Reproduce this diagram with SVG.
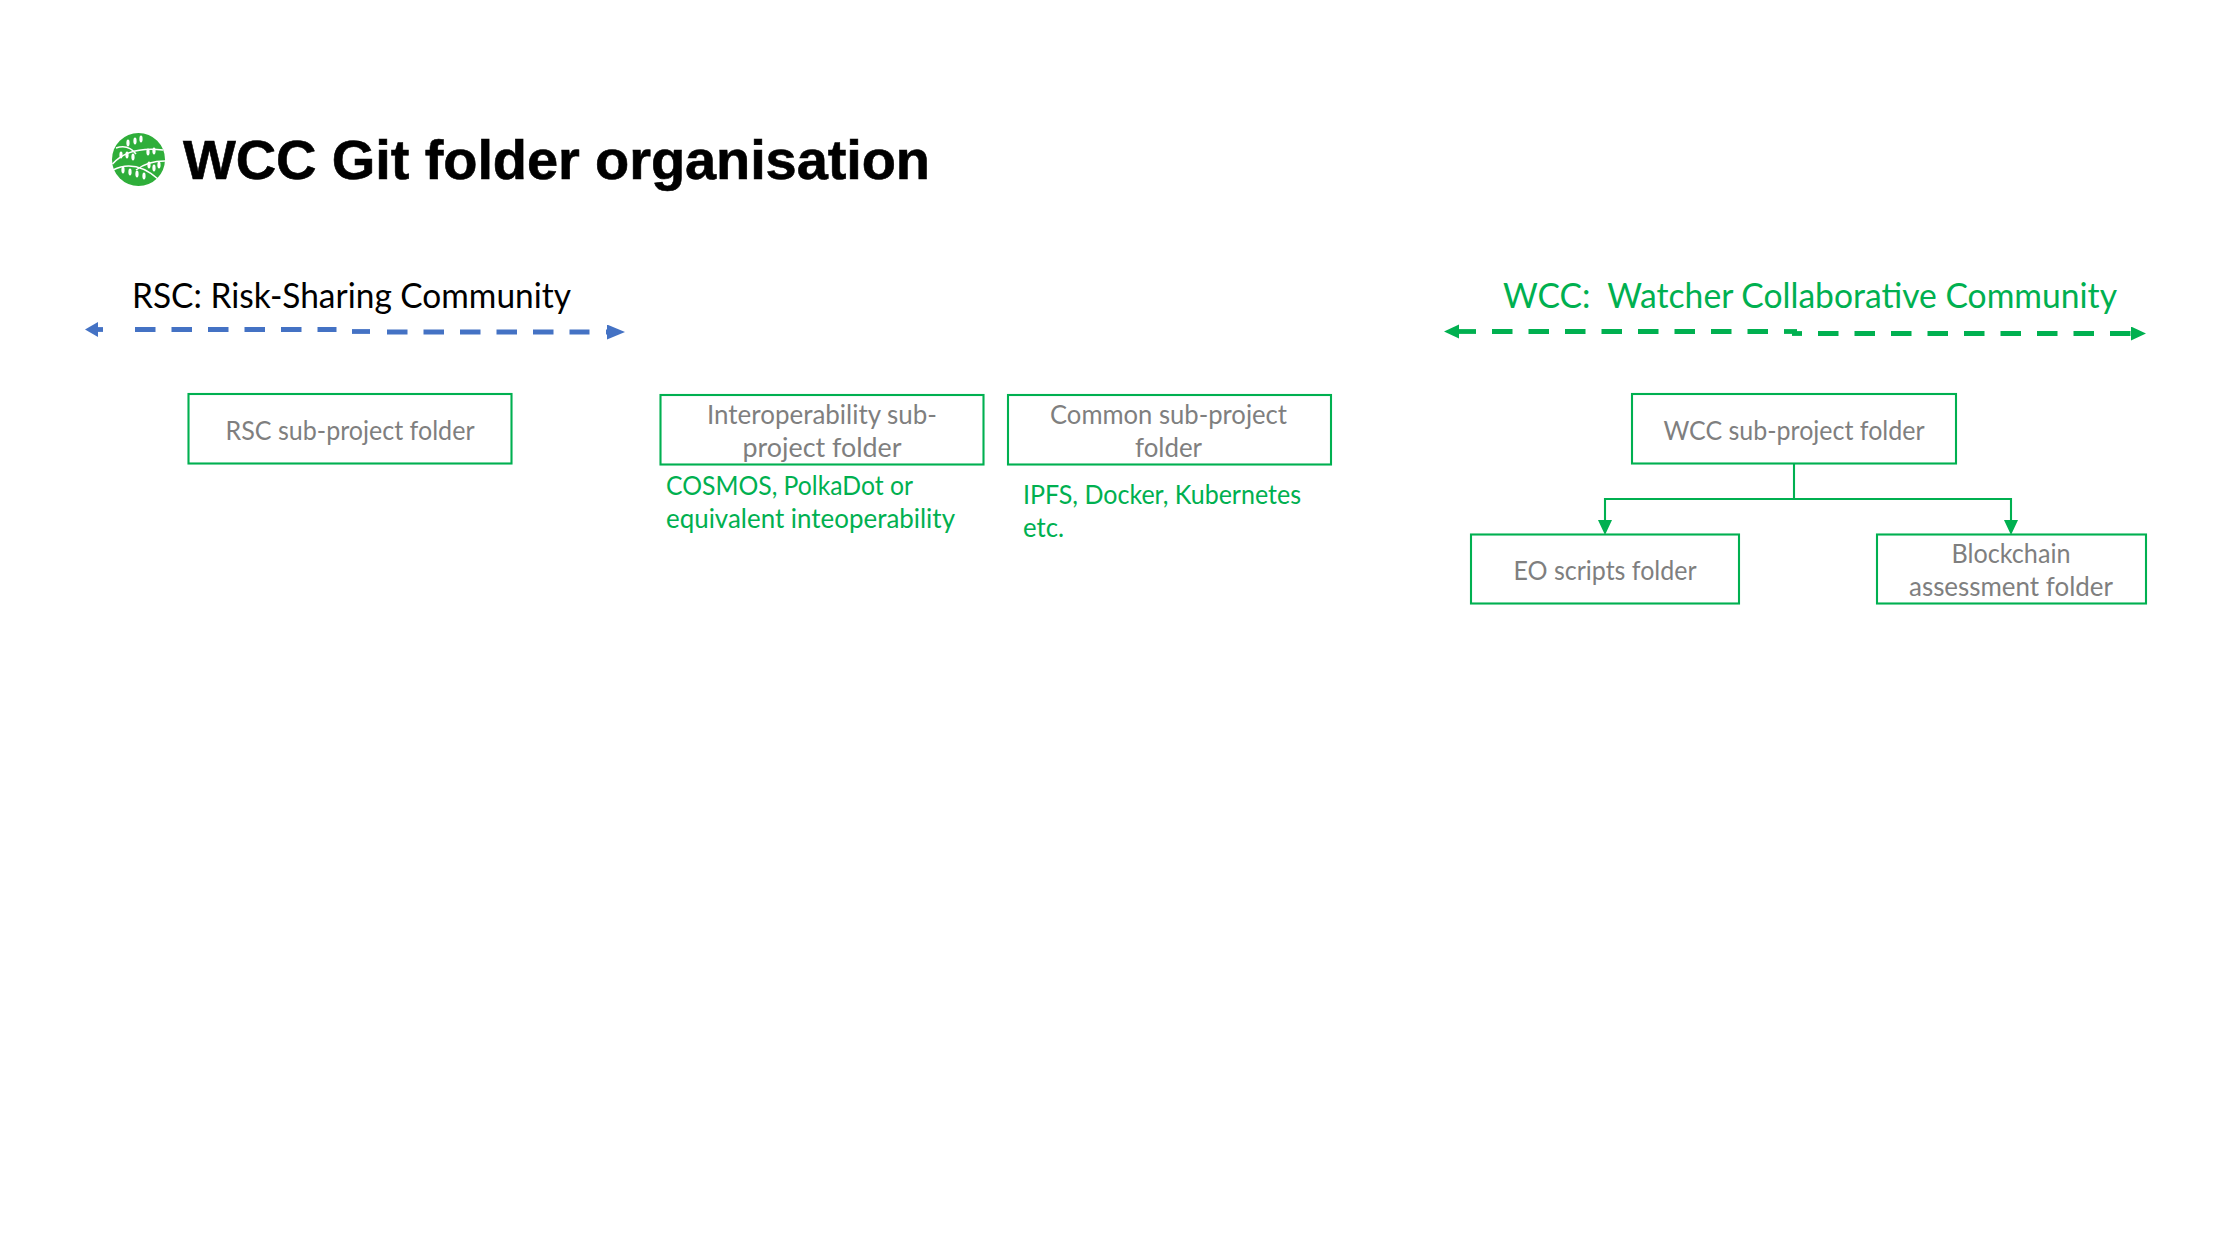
<svg xmlns="http://www.w3.org/2000/svg" width="2222" height="1250" viewBox="0 0 2222 1250">
<style>
.box{fill:#fff;stroke:#00B050;stroke-width:2.1}
.t{font-family:Lato,"Open Sans",sans-serif;font-size:26.5px;fill:#7f7f7f;text-anchor:middle}
.n{font-family:Lato,"Open Sans",sans-serif;font-size:26.5px;fill:#00B050}
.h{font-family:Lato,"Open Sans",sans-serif;font-size:34.5px;white-space:pre}
.title{font-family:"Liberation Sans",Arial,sans-serif;font-weight:700;font-size:56px;fill:#000;stroke:#000;stroke-width:.6}
.dash{fill:none;stroke-width:4.8;stroke-dasharray:20.5 16}
.stub{fill:none;stroke-width:4.8}
.b{stroke:#4472C4}.g{stroke:#00B050}
.conn{fill:none;stroke:#00B050;stroke-width:2.1}
.leaf{fill:#fff}
</style>
<defs>
<marker id="abl" markerUnits="userSpaceOnUse" markerWidth="14" markerHeight="16" refX="0" refY="7.5" orient="auto"><path d="M0 0L13 7.5L0 15Z" fill="#4472C4"/></marker>
<marker id="abr" markerUnits="userSpaceOnUse" markerWidth="19" markerHeight="16" refX="0" refY="7.5" orient="auto"><path d="M0 0L18 7.5L0 15Z" fill="#4472C4"/></marker>
<marker id="ag" markerUnits="userSpaceOnUse" markerWidth="16" markerHeight="16" refX="0" refY="7" orient="auto"><path d="M0 0L15 7L0 14Z" fill="#00B050"/></marker>
</defs>
<g id="logo">
<circle cx="138.5" cy="159.5" r="26.5" fill="#2FAE3A"/>
<path d="M112.5 164C125 150 145 148 163 150M113 170C133 160 150 172 158 179M136 170C145 163 155 161 165 161M136 154C130 146 122 146 116 148" fill="none" stroke="#fff" stroke-width="1.5"/>
<g class="leaf"><ellipse cx="128" cy="143" rx="1.6" ry="3.4"/><ellipse cx="135" cy="141" rx="1.6" ry="3.4"/><ellipse cx="141" cy="139" rx="1.6" ry="3.4"/><ellipse cx="121" cy="155" rx="1.6" ry="3.4"/><ellipse cx="127" cy="155" rx="1.6" ry="3.4"/><ellipse cx="133" cy="157" rx="1.6" ry="3.4"/><ellipse cx="148" cy="152" rx="1.6" ry="3.4"/><ellipse cx="154" cy="151" rx="1.6" ry="3.4"/><ellipse cx="149" cy="165" rx="1.6" ry="3.4"/><ellipse cx="154" cy="168" rx="1.6" ry="3.4"/><ellipse cx="159" cy="165" rx="1.6" ry="3.4"/><ellipse cx="123" cy="170" rx="1.6" ry="3.4"/><ellipse cx="130" cy="172" rx="1.6" ry="3.4"/><ellipse cx="137" cy="174" rx="1.6" ry="3.4"/><ellipse cx="144" cy="176" rx="1.6" ry="3.4"/></g>
</g>
<text id="title" class="title" x="183" y="179" textLength="747">WCC Git folder organisation</text>
<text id="rsc-label" class="h" x="132" y="308" fill="#000" textLength="439" lengthAdjust="spacingAndGlyphs">RSC: Risk-Sharing Community</text>
<text id="wcc-label" class="h" x="1503" y="308" fill="#00B050" textLength="614" lengthAdjust="spacingAndGlyphs">WCC:  Watcher Collaborative Community</text>
<g id="connectors">
<path class="stub b" d="M103 329.5H98" marker-end="url(#abl)"/>
<path class="dash b" d="M135 329.5H336.5"/>
<path class="stub b" d="M352 331.5H370"/>
<path class="dash b" d="M387 332H589.5"/>
<path class="stub b" d="M606 332H607" marker-end="url(#abr)"/>
<path class="stub g" d="M1476 331.5H1459" marker-end="url(#ag)"/>
<path class="dash g" d="M1492 331.5H1769"/>
<path class="stub g" d="M1784 331.5H1797"/>
<path class="stub g" d="M1792 333.5H1802"/>
<path class="dash g" d="M1818 333.5H2131" marker-end="url(#ag)"/>
<path class="conn" d="M1794 464V499"/>
<path class="conn" d="M1794 499H1605V520" marker-end="url(#ag)"/>
<path class="conn" d="M1794 499H2011V520" marker-end="url(#ag)"/>
</g>
<g id="rsc-folder"><rect class="box" x="188.5" y="394" width="323" height="69.5"/><text class="t" x="350" y="439.5" textLength="249" lengthAdjust="spacingAndGlyphs">RSC sub-project folder</text></g>
<g id="interop-folder"><rect class="box" x="660.5" y="395" width="323" height="69.5"/><text class="t" x="822" y="423.5" textLength="230" lengthAdjust="spacingAndGlyphs">Interoperability sub-</text><text class="t" x="822" y="456.5" textLength="159" lengthAdjust="spacingAndGlyphs">project folder</text></g>
<g id="common-folder"><rect class="box" x="1008" y="395" width="323" height="69.5"/><text class="t" x="1168.5" y="423.5" textLength="237" lengthAdjust="spacingAndGlyphs">Common sub-project</text><text class="t" x="1168.5" y="456.5" textLength="67" lengthAdjust="spacingAndGlyphs">folder</text></g>
<g id="wcc-folder"><rect class="box" x="1632" y="394" width="324" height="69.5"/><text class="t" x="1794" y="439.5" textLength="261" lengthAdjust="spacingAndGlyphs">WCC sub-project folder</text></g>
<g id="eo-folder"><rect class="box" x="1471" y="534.5" width="268" height="69"/><text class="t" x="1605" y="579.5" textLength="183" lengthAdjust="spacingAndGlyphs">EO scripts folder</text></g>
<g id="blockchain-folder"><rect class="box" x="1877" y="534.5" width="269" height="69"/><text class="t" x="2011" y="562.5" textLength="119" lengthAdjust="spacingAndGlyphs">Blockchain</text><text class="t" x="2011" y="595.5" textLength="204" lengthAdjust="spacingAndGlyphs">assessment folder</text></g>
<g id="interop-note"><text class="n" x="666" y="494.5" textLength="247" lengthAdjust="spacingAndGlyphs">COSMOS, PolkaDot or</text><text class="n" x="666" y="527.5" textLength="289" lengthAdjust="spacingAndGlyphs">equivalent inteoperability</text></g>
<g id="common-note"><text class="n" x="1023" y="503.5" textLength="278" lengthAdjust="spacingAndGlyphs">IPFS, Docker, Kubernetes</text><text class="n" x="1023" y="536.5" textLength="41" lengthAdjust="spacingAndGlyphs">etc.</text></g>
</svg>
